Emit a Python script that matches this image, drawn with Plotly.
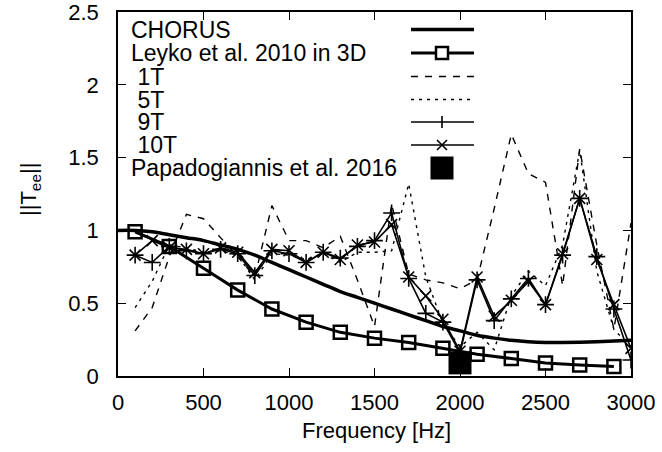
import plotly.graph_objects as go

# frequency grids [Hz]
freq = [100 * i for i in range(1, 31)]          # 100 .. 3000
freq_leyko = [100 + 200 * i for i in range(15)]  # 100, 300, .. 2900
freq_chorus = [100 * i for i in range(31)]       # 0 .. 3000

chorus = [1.00, 1.00, 0.99, 0.97, 0.95, 0.93, 0.90, 0.87, 0.83, 0.78, 0.73,
          0.68, 0.63, 0.58, 0.54, 0.50, 0.46, 0.42, 0.38, 0.34, 0.31,
          0.28, 0.26, 0.245, 0.235, 0.23, 0.23, 0.232, 0.235, 0.24, 0.245]

leyko = [0.99, 0.89, 0.74, 0.59, 0.46, 0.37, 0.30, 0.26, 0.23, 0.19,
         0.15, 0.12, 0.09, 0.075, 0.065]

t1 = [0.31, 0.47, 0.82, 1.11, 1.08, 0.95, 0.82, 0.68, 1.17, 0.93,
      0.93, 0.88, 0.96, 0.66, 0.34, 1.18, 0.70, 0.66, 0.64, 0.60,
      0.66, 1.15, 1.66, 1.39, 1.33, 0.62, 1.56, 0.90, 0.32, 1.05]

t5 = [0.47, 0.65, 0.90, 0.88, 0.85, 0.86, 0.83, 0.66, 0.84, 0.83,
      0.80, 0.84, 0.78, 0.85, 0.85, 0.86, 1.32, 0.68, 0.36, 0.20,
      0.30, 0.18, 0.55, 0.72, 0.62, 0.90, 1.55, 0.72, 0.32, 0.20]

t9 = [0.83, 0.78, 0.89, 0.86, 0.84, 0.87, 0.84, 0.69, 0.86, 0.84,
      0.78, 0.85, 0.81, 0.89, 0.93, 1.12, 0.67, 0.43, 0.37, 0.16,
      0.66, 0.38, 0.53, 0.67, 0.49, 0.83, 1.22, 0.82, 0.46, 0.11]

t10 = [0.83, 0.93, 0.88, 0.87, 0.84, 0.88, 0.85, 0.71, 0.87, 0.86,
       0.78, 0.85, 0.80, 0.90, 0.92, 1.04, 0.68, 0.55, 0.39, 0.17,
       0.68, 0.41, 0.52, 0.65, 0.49, 0.84, 1.22, 0.80, 0.49, 0.19]

papa_freq = [2000]
papa_val = [0.09]

legend_labels = ["CHORUS", "Leyko et al. 2010 in 3D", "\u00a01T", "\u00a05T",
                 "\u00a09T", "\u00a010T", "Papadogiannis et al. 2016"]

FONT = "Liberation Sans, Arial, sans-serif"

fig = go.Figure()
fig.add_trace(go.Scatter(x=freq_chorus, y=chorus, mode="lines", line_shape="spline",
                         line=dict(color="black", width=3.5)))
fig.add_trace(go.Scatter(x=freq_leyko, y=leyko, mode="lines+markers",
                         line=dict(color="black", width=3),
                         marker=dict(symbol="square-open", size=13, color="black",
                                     line=dict(width=2.5, color="black"))))
fig.add_trace(go.Scatter(x=freq, y=t1, mode="lines",
                         line=dict(color="black", width=1.4, dash="7px,7px")))
fig.add_trace(go.Scatter(x=freq, y=t5, mode="lines",
                         line=dict(color="black", width=1.4, dash="3px,5px")))
fig.add_trace(go.Scatter(x=freq, y=t9, mode="lines+markers",
                         line=dict(color="black", width=1.6),
                         marker=dict(symbol="cross-thin-open", size=12,
                                     line=dict(width=1.6, color="black"))))
fig.add_trace(go.Scatter(x=freq, y=t10, mode="lines+markers",
                         line=dict(color="black", width=1.6),
                         marker=dict(symbol="x-thin-open", size=11,
                                     line=dict(width=1.6, color="black"))))
fig.add_trace(go.Scatter(x=papa_freq, y=papa_val, mode="markers",
                         marker=dict(symbol="square", size=23, color="black")))

# gnuplot-style key: text on the left, sample on the right
L, T, W, H = 118, 12, 513, 364


def px(xp):
    return (xp - L) / W


def py(yp):
    return (T + H - yp) / H


rows = [29.5, 53, 76.5, 99.5, 122, 145, 168]
shapes = []
annotations = []
for lab, yr in zip(legend_labels, rows):
    annotations.append(dict(text=lab, x=px(129), y=py(yr), xref="paper", yref="paper",
                            xanchor="left", yanchor="middle", showarrow=False,
                            font=dict(size=23, color="black", family=FONT)))

x0, x1, xm = px(411), px(474), px(442)
line_styles = [(3.5, "solid"), (3, "solid"), (1.4, "7px,7px"), (1.4, "3px,5px"),
               (1.6, "solid"), (1.6, "solid")]
for (w, d), yr in zip(line_styles, rows[:6]):
    shapes.append(dict(type="line", xref="paper", yref="paper", x0=x0, x1=x1,
                       y0=py(yr), y1=py(yr), line=dict(color="black", width=w, dash=d)))
# Leyko square
shapes.append(dict(type="rect", xref="paper", yref="paper", x0=px(436), x1=px(448),
                   y0=py(47), y1=py(59), line=dict(color="black", width=2.5),
                   fillcolor="white"))
# 9T plus
shapes.append(dict(type="line", xref="paper", yref="paper", x0=xm, x1=xm,
                   y0=py(116), y1=py(128), line=dict(color="black", width=1.6)))
# 10T cross
shapes.append(dict(type="line", xref="paper", yref="paper", x0=px(437), x1=px(447),
                   y0=py(140), y1=py(150), line=dict(color="black", width=1.6)))
shapes.append(dict(type="line", xref="paper", yref="paper", x0=px(437), x1=px(447),
                   y0=py(150), y1=py(140), line=dict(color="black", width=1.6)))
# Papadogiannis square
shapes.append(dict(type="rect", xref="paper", yref="paper", x0=px(430.5), x1=px(453.5),
                   y0=py(156.5), y1=py(179.5), line=dict(width=0), fillcolor="black"))

annotations.append(dict(text="Frequency [Hz]", x=px(376), y=py(431), xref="paper",
                        yref="paper", xanchor="center", yanchor="middle", showarrow=False,
                        font=dict(size=22, color="black", family=FONT)))
annotations.append(dict(text="||T<sub>ee</sub>||", x=px(30), y=py(190), xref="paper",
                        yref="paper", xanchor="center", yanchor="middle", showarrow=False,
                        textangle=-90, font=dict(size=22, color="black", family=FONT)))

axis_common = dict(showline=True, linecolor="black", linewidth=1.5, mirror="ticks",
                   ticks="inside", ticklen=8, tickwidth=1, tickcolor="black",
                   showgrid=False, zeroline=False, automargin=False,
                   ticklabeloverflow="allow",
                   tickfont=dict(size=22, color="black", family=FONT))

fig.update_xaxes(range=[0, 3000], tickvals=[0, 500, 1000, 1500, 2000, 2500, 3000],
                 ticklabelstandoff=6, **axis_common)
fig.update_yaxes(range=[0, 2.5], tickvals=[0, 0.5, 1, 1.5, 2, 2.5],
                 ticklabelstandoff=13, **axis_common)

fig.update_layout(width=662, height=452, showlegend=False,
                  margin=dict(l=L, r=662 - L - W, t=T, b=452 - T - H),
                  plot_bgcolor="white", paper_bgcolor="white",
                  shapes=shapes, annotations=annotations)

# drop the browser's default 8px body margin so the figure sits at the page corner
fig.write_html("out.html", config={"displayModeBar": False},
               post_script="document.body.style.margin='0px';document.body.style.overflow='hidden';")
